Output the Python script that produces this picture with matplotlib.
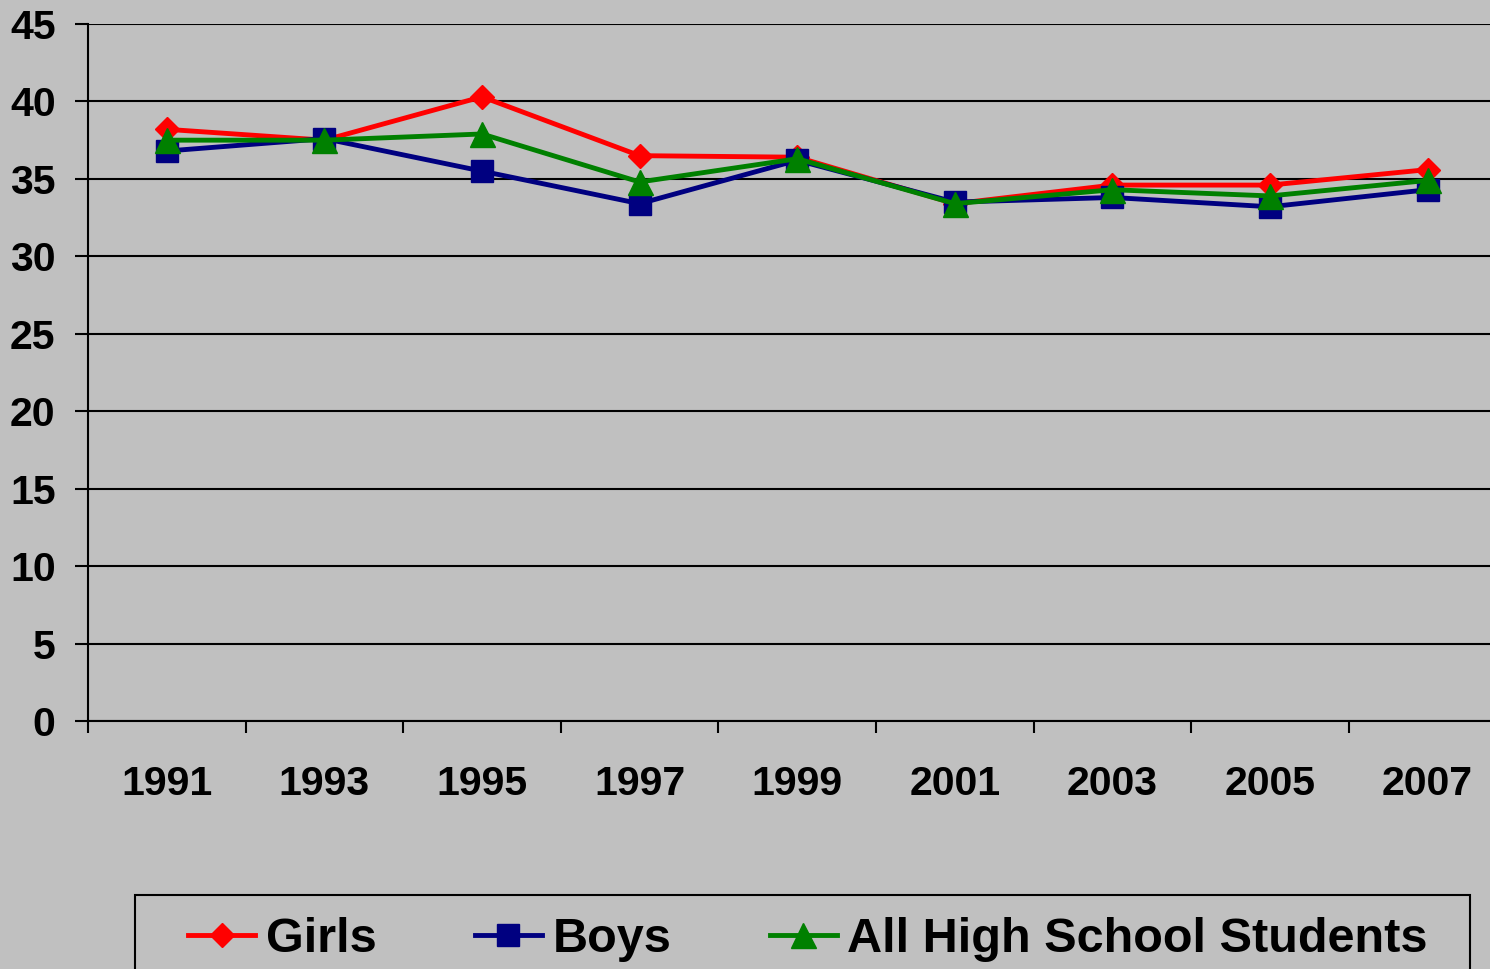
import matplotlib
matplotlib.use("Agg")
import matplotlib.pyplot as plt
from matplotlib.patches import Rectangle

# Data
years = ["1991", "1993", "1995", "1997", "1999", "2001", "2003", "2005", "2007"]
girls = [38.2, 37.5, 40.3, 36.5, 36.4, 33.4, 34.6, 34.6, 35.6]
boys = [36.8, 37.6, 35.5, 33.4, 36.2, 33.5, 33.8, 33.2, 34.3]
all_students = [37.5, 37.5, 37.9, 34.8, 36.3, 33.4, 34.3, 33.9, 34.9]

y_ticks = list(range(0, 46, 5))

plt.rcParams['font.family'] = ['Liberation Sans', 'DejaVu Sans']
plt.rcParams['font.weight'] = 'bold'

W, H = 1490, 969
fig = plt.figure(figsize=(W / 100, H / 100), dpi=100)
fig.patch.set_facecolor('#C0C0C0')

# axes box in pixels: left 88, top 24, bottom 721, spacing ~157.6 per category
left, top, bottom = 88, 24, 721
width = 9 * 157.6
ax = fig.add_axes([left / W, 1 - bottom / H, width / W, (bottom - top) / H])
ax.set_facecolor('#C0C0C0')

x = list(range(len(years)))

#Plotting the three series, green last so it sits on top
ax.plot(x, girls, color='#FF0000', lw=3.5, marker='D', ms=12, label='Girls', zorder=3)
ax.plot(x, boys, color='#000080', lw=3.5, marker='s', ms=16, label='Boys', zorder=4)
ax.plot(x, all_students, color='#008000', lw=3.5, marker='^', ms=18,
        label='All High School Students', zorder=5)

ax.set_xlim(-0.5, len(years) - 0.5)
ax.set_ylim(0, 45)
ax.set_yticks(y_ticks)
ax.set_xticks(x)
ax.set_xticklabels(years)
ax.set_xticks([i - 0.5 for i in range(len(years) + 1)], minor=True)

ax.yaxis.grid(True, color='black', lw=1.5)
ax.set_axisbelow(True)

ax.tick_params(axis='x', which='major', length=0, pad=32, labelsize=29.5)
ax.tick_params(axis='x', which='minor', length=8.6, width=1.5, direction='out')
ax.tick_params(axis='y', length=9.4, width=1.5, pad=14, labelsize=29.5)

for s in ['top', 'right']:
    ax.spines[s].set_visible(False)
for s in ['left', 'bottom']:
    ax.spines[s].set_linewidth(1.5)
    ax.spines[s].set_color('black')

# Legend at the bottom, frame drawn separately so it can run off the edge
fig.legend(loc='center left', bbox_to_anchor=(188 / W, 1 - 940 / H), ncol=3,
           frameon=False, fontsize=35, handlelength=1.38, handletextpad=0.22,
           columnspacing=2.02, borderpad=0, borderaxespad=0)
fig.patches.append(Rectangle((135 / W, 1 - 980 / H), (1470 - 135) / W, (980 - 895) / H,
                             transform=fig.transFigure, fill=False, edgecolor='black',
                             lw=1.5, clip_on=False))

fig.savefig('out.png', dpi=100, facecolor=fig.get_facecolor())
